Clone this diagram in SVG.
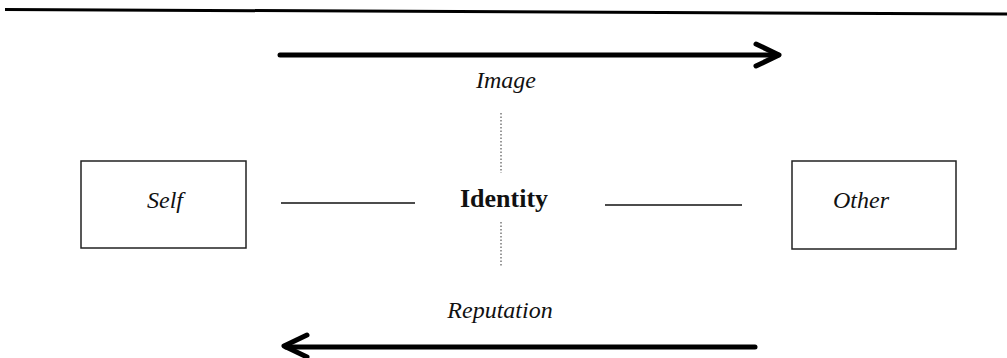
<svg xmlns="http://www.w3.org/2000/svg" width="1007" height="358" viewBox="0 0 1007 358">
<style>
.lbl{font-family:"Liberation Serif",serif;font-style:italic;font-size:24px;fill:#111;text-anchor:middle}
.bold{font-family:"Liberation Serif",serif;font-weight:bold;font-size:26px;fill:#111;text-anchor:middle}
.box{fill:#fff;stroke:#222;stroke-width:1.5}
.thick{stroke:#000;stroke-width:5;fill:none;stroke-linecap:round;stroke-linejoin:round}
.thin{stroke:#111;stroke-width:1.5;fill:none}
.dot{stroke:#333;stroke-width:1;stroke-dasharray:1.5 2;fill:none}
</style>
<rect width="1007" height="358" fill="#fff"/>
<line x1="5" y1="9.5" x2="1007" y2="14" stroke="#000" stroke-width="3"/>
<g id="connectors">
<path class="thick" d="M280 55 L778 55"/>
<path class="thick" d="M756 44 L779 55 L756 66"/>
<path class="thick" d="M755 347 L286 347"/>
<path class="thick" d="M307 335 L284 346 L307 357"/>
<line class="thin" x1="281" y1="203" x2="415" y2="203"/>
<line class="thin" x1="605" y1="205" x2="742" y2="205"/>
<line class="dot" x1="501" y1="113" x2="501" y2="173"/>
<line class="dot" x1="501" y1="222" x2="501" y2="267"/>
</g>
<g id="image-label"><text class="lbl" x="506" y="88">Image</text></g>
<g id="reputation-label"><text class="lbl" x="500" y="318">Reputation</text></g>
<g id="self"><rect class="box" x="81" y="161" width="165" height="87"/><text class="lbl" x="165" y="208">Self</text></g>
<g id="identity"><text class="bold" x="504" y="207">Identity</text></g>
<g id="other"><rect class="box" x="792" y="161" width="164" height="88"/><text class="lbl" x="861" y="208">Other</text></g>
</svg>
